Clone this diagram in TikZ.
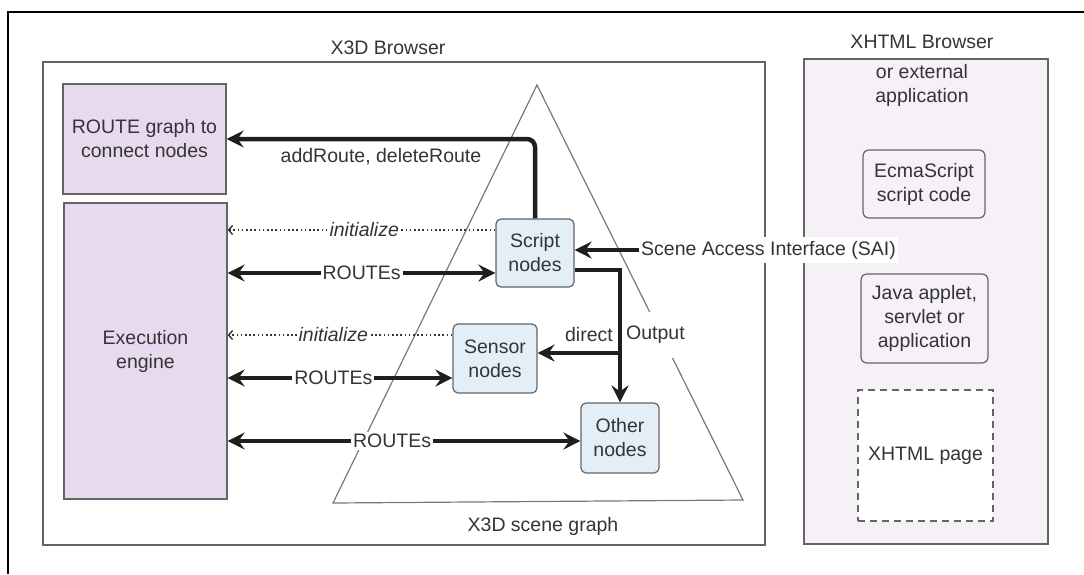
\documentclass[tikz,border=0pt]{standalone}
\usepackage{fontspec}
\setmainfont{Liberation Sans}
\usetikzlibrary{arrows.meta,calc}
\definecolor{lavender}{RGB}{231,218,238}
\definecolor{nodeblue}{RGB}{228,238,247}
\definecolor{panel}{RGB}{245,241,247}
\definecolor{ink}{RGB}{52,52,52}
\definecolor{wire}{RGB}{30,32,30}
\definecolor{framegray}{RGB}{100,100,100}
\definecolor{trigray}{RGB}{120,120,120}
\begin{document}
\begin{tikzpicture}[x=1pt,y=-1pt,
  every node/.style={text=ink, font=\fontsize{19.5pt}{24pt}\selectfont},
  bigbox/.style={draw=framegray, line width=1.3pt, fill=lavender, inner sep=0pt, align=center},
  scenebox/.style={draw=framegray, line width=1.2pt, fill=nodeblue, rounded corners=5pt, inner sep=0pt, align=center},
  appbox/.style={draw=framegray, line width=1.2pt, fill=panel, rounded corners=6pt, inner sep=0pt, align=center},
  tip/.style={Stealth[length=17pt,width=17pt,inset=6pt]},
  flow/.style={draw=wire, line width=4.5pt, -{Stealth[length=17pt,width=17pt,inset=6pt]}},
  biflow/.style={draw=wire, line width=4.5pt, {Stealth[length=17pt,width=17pt,inset=6pt]}-{Stealth[length=17pt,width=17pt,inset=6pt]}},
  initline/.style={draw=ink, line width=1.4pt, dash pattern=on 1.6pt off 2.6pt, -{Straight Barb[length=4pt,width=9pt]}},
  lab/.style={fill=white, inner sep=2pt},
]
\useasboundingbox (0,0) rectangle (1084,574);

% outer page rules
\draw[line width=2pt, black] (8,574) -- (8,12) -- (1084,12);

% X3D browser frame and title
\node (x3dtitle) at (388,48) {X3D Browser};
\draw[draw=framegray, line width=1.3pt] (43,62) rectangle (765,545);

% scene graph triangle
\draw[draw=trigray, line width=1.2pt] (537,85) -- (743,500) -- (333,503) -- cycle;
\node (scenetitle) at (543,526) {X3D scene graph};

% browser-side blocks
\node[bigbox, minimum width=163pt, minimum height=110pt] (route) at (144.5,139) {ROUTE graph to\\connect nodes};
\node[bigbox, minimum width=163pt, minimum height=296pt] (exec) at (145.5,351) {Execution\\engine};

% scene nodes
\node[scenebox, minimum width=78pt, minimum height=68pt] (script) at (535,253) {Script\\nodes};
\node[scenebox, minimum width=84pt, minimum height=69pt] (sensor) at (495,358.5) {Sensor\\nodes};
\node[scenebox, minimum width=78pt, minimum height=70pt] (other) at (620,438) {Other\\nodes};

% XHTML browser / external application
\node (xtitle) at (922,42) {XHTML Browser};
\draw[draw=framegray, line width=1.3pt, fill=panel] (804,59) rectangle (1048,544);
\node[align=center] (xsub) at (922,85) {or external\\application};
\node[appbox, minimum width=122pt, minimum height=68pt] (ecma) at (924,184) {EcmaScript\\script code};
\node[appbox, minimum width=127pt, minimum height=89pt] (java) at (924.5,318.5) {Java applet,\\servlet or\\application};
\node[draw=framegray, line width=1.3pt, dash pattern=on 7pt off 5pt, fill=white, inner sep=0pt,
      minimum width=135pt, minimum height=131pt] (page) at (925.5,455.5) {XHTML page};

% addRoute / deleteRoute
\draw[flow, rounded corners=8pt] (script.north) |- (route.east);
\node (addlab) at (381,157) {addRoute, deleteRoute};

% anchor points on the node sides
\path ([yshift=23pt]script.west) coordinate (sinit)
      ([yshift=-20pt]script.west) coordinate (sroute)
      ([yshift=23.5pt]sensor.west) coordinate (ninit)
      ([yshift=-19.5pt]sensor.west) coordinate (nroute)
      ([yshift=-3pt]other.west) coordinate (oroute)
      ([yshift=-17pt]script.east) coordinate (sout)
      ([yshift=5.5pt]sensor.east) coordinate (nin);

% initialize links
\draw[initline] (sinit) -- (exec.east |- sinit)
  node[lab, pos=0.49, font=\fontsize{19.5pt}{24pt}\selectfont\itshape] {initialize};
\draw[initline] (ninit) -- (exec.east |- ninit)
  node[lab, pos=0.53, font=\fontsize{19.5pt}{24pt}\selectfont\itshape] {initialize};

% ROUTEs between engine and scene nodes
\draw[biflow] (exec.east |- sroute) -- (sroute) node[lab, pos=0.5] {ROUTEs};
\draw[biflow] (exec.east |- nroute) -- (nroute) node[lab, pos=0.47] {ROUTEs};
\draw[biflow] (exec.east |- oroute) -- (oroute) node[lab, pos=0.466] {ROUTEs};

% direct output from script nodes
\node[anchor=east, inner sep=1pt] (directlab) at (614,335) {direct};
\node[anchor=west, fill=white, inner xsep=1pt, inner ysep=14pt] (outputlab) at (625,335) {Output};
\draw[flow] (sout) -| (other.north);
\draw[flow] (other.north |- nin) -- (nin);

% Scene Access Interface
\node[anchor=west, fill=white, inner xsep=2pt, inner ysep=4pt] (sai) at (639,250) {Scene Access Interface (SAI)};
\draw[flow] (sai.west) -- (script.east |- sai.west);
\end{tikzpicture}
\end{document}
